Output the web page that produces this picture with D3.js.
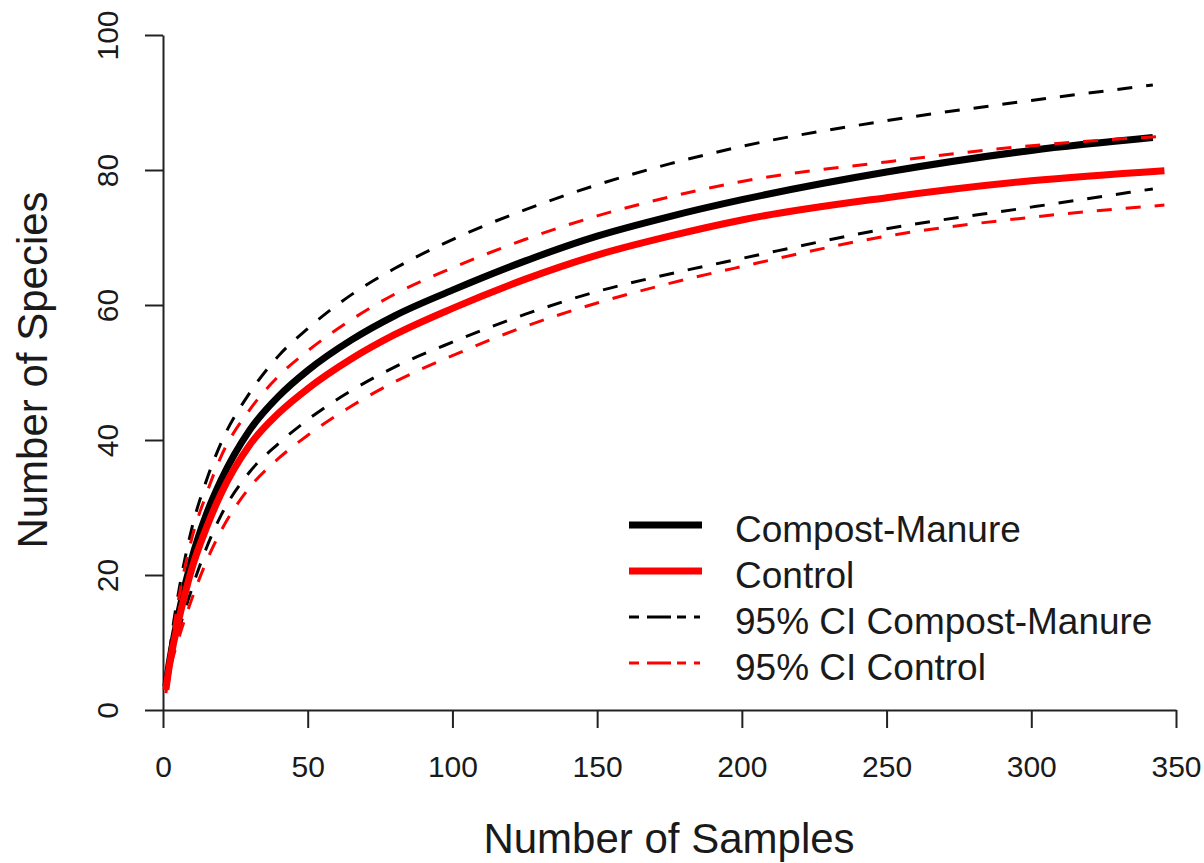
<!DOCTYPE html>
<html>
<head>
<meta charset="utf-8">
<script src="https://cdn.jsdelivr.net/npm/d3@7"></script>
<style>
  body { margin: 0; background: #fff; }
  text { font-family: "Liberation Sans", Arial, sans-serif; fill: #1a1a1a; }
</style>
</head>
<body>
<div id="curve"></div>
<script>
// sample counts (compost series stops a bit earlier)
var samplesCompost = [1, 2, 3, 5, 10, 15, 20, 30, 40, 50, 65, 80, 100, 125, 150, 175, 200, 250, 300, 342];
var samplesControl = [1, 2, 3, 5, 10, 15, 20, 30, 40, 50, 65, 80, 100, 125, 150, 175, 200, 250, 300, 346];

// species accumulation
var compost      = [3.5, 6.5, 9, 13.5, 22.5, 29, 34, 41.5, 46.5, 50.3, 54.8, 58.4, 62.2, 66.5, 70.2, 73.1, 75.6, 79.7, 82.9, 84.8];
var compostUpper = [4, 7.5, 11, 16.5, 27, 34, 39.5, 47, 52.5, 56.5, 61.5, 65.4, 69.7, 74.1, 77.8, 80.9, 83.5, 87.3, 90.3, 92.6];
var compostLower = [3, 5.5, 7.5, 11, 18, 24, 28.8, 35.3, 39.5, 43, 47.3, 50.8, 54.5, 58.6, 62, 64.6, 66.9, 71.3, 74.5, 77.2];
var control      = [3, 6, 8.5, 12.5, 21, 27, 32, 39.3, 44, 47.6, 52, 55.6, 59.5, 63.8, 67.4, 70.2, 72.6, 75.9, 78.4, 79.9];
var controlUpper = [3.5, 7, 10, 15.5, 25.5, 32, 37.5, 44.5, 49.5, 53.2, 57.8, 61.6, 65.5, 69.7, 73.2, 76, 78.3, 81.2, 83.6, 85];
var controlLower = [2.5, 5, 7, 10, 16.5, 22, 26.5, 33, 37.3, 40.7, 45, 48.6, 52.5, 56.8, 60.3, 63.2, 65.7, 70.2, 73, 74.8];

var xTicks = [0, 50, 100, 150, 200, 250, 300, 350];
var yTicks = [0, 20, 40, 60, 80, 100];
var legendLabels = ["Compost-Manure", "Control", "95% CI Compost-Manure", "95% CI Control"];

var width = 1204, height = 863;

var svg = d3.select("#curve")
    .append("svg")
    .attr("width", width)
    .attr("height", height);

var x = d3.scaleLinear().domain([0, 350]).range([163, 1176]);
var y = d3.scaleLinear().domain([0, 100]).range([710, 35]);

// x axis, R style (line only between first and last tick)
var gx = svg.append("g")
    .attr("transform", "translate(0,710)")
    .call(d3.axisBottom(x).tickValues(xTicks).tickSize(18).tickSizeOuter(0).tickPadding(28));
gx.selectAll("text").attr("font-size", "30px");

// y axis with rotated labels
var gy = svg.append("g")
    .attr("transform", "translate(163,0)")
    .call(d3.axisLeft(y).tickValues(yTicks).tickSize(18).tickSizeOuter(0));
gy.selectAll("text")
    .attr("font-size", "30px")
    .attr("x", 0)
    .attr("y", -45)
    .attr("dy", null)
    .attr("text-anchor", "middle")
    .attr("transform", "rotate(-90)");

svg.selectAll(".domain, .tick line")
    .attr("stroke", "#222")
    .attr("stroke-width", 2);
svg.selectAll(".tick text").attr("fill", "#1a1a1a").attr("font-family", "Liberation Sans, Arial, sans-serif");

// axis titles
svg.append("text")
    .attr("x", 669)
    .attr("y", 853)
    .attr("text-anchor", "middle")
    .attr("font-size", "42px")
    .text("Number of Samples");

svg.append("text")
    .attr("transform", "translate(47,370) rotate(-90)")
    .attr("text-anchor", "middle")
    .attr("font-size", "42px")
    .text("Number of Species");

// the curves
function series(xs, ys) {
    return xs.map(function(d, i) { return { n: d, s: ys[i] }; });
}

var line = d3.line()
    .curve(d3.curveMonotoneX)
    .x(function(d) { return x(d.n) })
    .y(function(d) { return y(d.s) });

var curves = [
    { data: series(samplesCompost, compost),      color: "#000", w: 7, dash: null },
    { data: series(samplesCompost, compostUpper), color: "#000", w: 3, dash: "15,14" },
    { data: series(samplesCompost, compostLower), color: "#000", w: 3, dash: "15,14" },
    { data: series(samplesControl, control),      color: "#ff0000", w: 7, dash: null },
    { data: series(samplesControl, controlUpper), color: "#ff0000", w: 3, dash: "15,14" },
    { data: series(samplesControl, controlLower), color: "#ff0000", w: 3, dash: "15,14" }
];

curves.forEach(function(c) {
    svg.append("path")
        .datum(c.data)
        .attr("fill", "none")
        .attr("stroke", c.color)
        .attr("stroke-width", c.w)
        .attr("stroke-dasharray", c.dash)
        .attr("d", line);
});

// legend (no box)
var legendStyle = [
    { color: "#000", w: 7, dash: null },
    { color: "#ff0000", w: 7, dash: null },
    { color: "#000", w: 3, dash: "10,8,24,6,9,8,6" },
    { color: "#ff0000", w: 3, dash: "10,8,24,6,9,8,6" }
];

legendLabels.forEach(function(label, i) {
    var ly = 525 + i * 46;
    svg.append("line")
        .attr("x1", 629).attr("x2", 702)
        .attr("y1", ly).attr("y2", ly)
        .attr("stroke", legendStyle[i].color)
        .attr("stroke-width", legendStyle[i].w)
        .attr("stroke-dasharray", legendStyle[i].dash);
    svg.append("text")
        .attr("x", 735)
        .attr("y", ly + 17)
        .attr("font-size", "37px")
        .text(label);
});
</script>
</body>
</html>
